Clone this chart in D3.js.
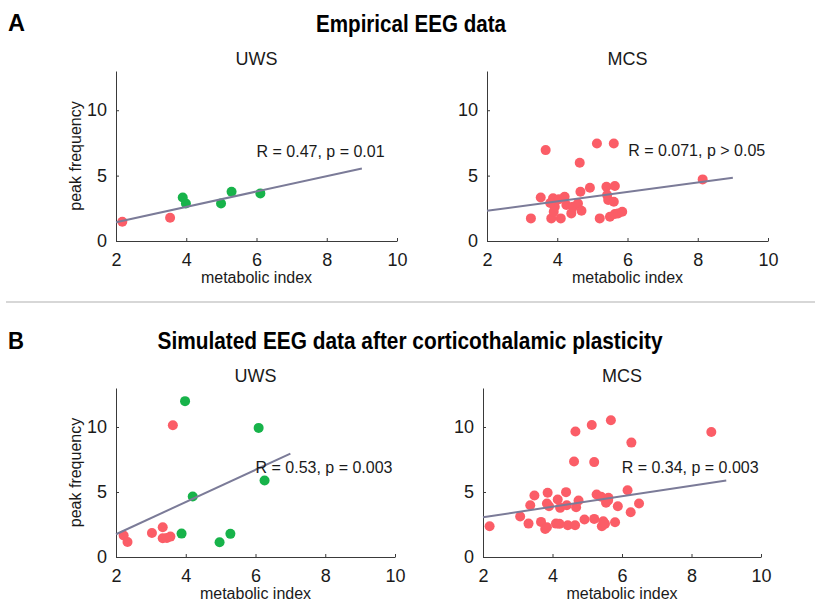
<!DOCTYPE html>
<html>
<head>
<meta charset="utf-8">
<script src="https://cdn.jsdelivr.net/npm/d3@7"></script>
<style>
  body { margin: 0; background: #fff; }
  svg { display: block; font-family: "Liberation Sans", Arial, sans-serif; }
  .axis path, .axis line { stroke: #3a3a3a; }
  .axis text { font-size: 18px; fill: #1a1a1a; font-family: "Liberation Sans", Arial, sans-serif; }
</style>
</head>
<body>
<div id="chart"></div>
<script>
// ---- data (metabolic index, peak frequency) ----
const xTicks = [2, 4, 6, 8, 10];
const yTicks = [0, 5, 10];

// A: empirical, UWS
const empUwsRed = [[2.18, 1.47], [3.54, 1.78]];
const empUwsGreen = [[3.9, 3.33], [3.99, 2.87], [4.99, 2.87], [5.29, 3.77], [6.11, 3.64]];
const empUwsFit = [[2, 1.43], [9, 5.55]];

// A: empirical, MCS
const empMcsRed = [
  [3.25, 1.73], [3.53, 3.33], [3.67, 6.95], [3.83, 1.73], [3.88, 3.26], [3.93, 2.62],
  [3.9, 2.24], [4.1, 1.73], [4.21, 3.38], [4.26, 2.75], [4.4, 2.11], [4.45, 2.62],
  [4.59, 2.87], [4.64, 5.98], [4.66, 3.77], [4.69, 2.31], [4.93, 4.07], [5.13, 7.46],
  [5.21, 1.73], [5.4, 4.15], [5.42, 3.51], [5.45, 3.13], [5.5, 1.86], [5.61, 7.46],
  [5.64, 4.2], [5.61, 3.0], [5.64, 2.06], [5.73, 2.11], [5.85, 2.24], [8.14, 4.71],
  [4.05, 3.2], [3.8, 2.9]
];
const empMcsGreen = [];
const empMcsFit = [[2, 2.31], [9, 4.83]];

// B: simulated, UWS
const simUwsRed = [
  [2.22, 1.65], [2.33, 1.16], [3.03, 1.85], [3.34, 2.29], [3.34, 1.44],
  [3.46, 1.47], [3.56, 1.57], [3.63, 10.14]
];
const simUwsGreen = [
  [3.98, 11.99], [3.88, 1.8], [4.2, 4.66], [4.97, 1.13], [5.28, 1.78], [6.09, 9.93], [6.26, 5.89]
];
const simUwsFit = [[2, 1.75], [7, 7.95]];

// B: simulated, MCS
const simMcsRed = [
  [2.19, 2.36], [3.07, 3.11], [3.31, 2.57], [3.36, 3.98], [3.48, 4.73], [3.67, 2.7],
  [3.79, 2.16], [3.84, 4.12], [3.86, 4.94], [3.9, 3.91], [3.84, 2.29], [4.1, 2.57],
  [4.15, 4.42], [4.2, 2.55], [4.22, 3.78], [4.39, 4.99], [4.41, 3.98], [4.44, 2.44],
  [4.62, 7.34], [4.66, 9.65], [4.65, 2.44], [4.68, 3.83], [4.75, 4.35], [4.92, 2.88],
  [5.13, 10.16], [5.2, 2.93], [5.2, 7.3], [5.27, 4.81], [5.4, 4.63], [5.42, 2.36],
  [5.46, 2.75], [5.51, 2.55], [5.54, 4.17], [5.61, 4.56], [5.6, 4.35], [5.68, 10.52],
  [5.8, 2.67], [5.88, 3.91], [6.16, 5.14], [6.25, 3.44], [6.27, 8.8], [6.49, 4.12],
  [8.57, 9.62]
];
const simMcsGreen = [];
const simMcsFit = [[2, 3.06], [9, 5.89]];

const panels = [
  { title: "UWS", left: 116, top: 71, w: 281, h: 170, red: empUwsRed, green: empUwsGreen, fit: empUwsFit,
    stat: "R = 0.47, p = 0.01", statAt: [6.0, 6.4], ylabel: true },
  { title: "MCS", left: 487, top: 71, w: 281, h: 170, red: empMcsRed, green: empMcsGreen, fit: empMcsFit,
    stat: "R = 0.071, p > 0.05", statAt: [6.02, 6.5], ylabel: false },
  { title: "UWS", left: 116, top: 388, w: 279, h: 169, red: simUwsRed, green: simUwsGreen, fit: simUwsFit,
    stat: "R = 0.53, p = 0.003", statAt: [6.0, 6.45], ylabel: true },
  { title: "MCS", left: 483, top: 388, w: 278, h: 169, red: simMcsRed, green: simMcsGreen, fit: simMcsFit,
    stat: "R = 0.34, p = 0.003", statAt: [5.99, 6.5], ylabel: false }
];

const width = 815, height = 601;
const svg = d3.select("#chart").append("svg")
  .attr("width", width)
  .attr("height", height);

// section headings (condensed bold, like the original figure)
svg.append("text").attr("x", 8).attr("y", 31)
  .attr("textLength", 17).attr("lengthAdjust", "spacingAndGlyphs")
  .style("font-size", "23px").style("font-weight", "bold").text("A");
svg.append("text").attr("x", 411).attr("y", 32)
  .attr("text-anchor", "middle")
  .attr("textLength", 190).attr("lengthAdjust", "spacingAndGlyphs")
  .style("font-size", "23px").style("font-weight", "bold").text("Empirical EEG data");

svg.append("line").attr("x1", 6).attr("x2", 815).attr("y1", 302).attr("y2", 302)
  .attr("stroke", "#b0b0b0").attr("stroke-width", 1.2);

svg.append("text").attr("x", 8).attr("y", 349)
  .attr("textLength", 16).attr("lengthAdjust", "spacingAndGlyphs")
  .style("font-size", "23px").style("font-weight", "bold").text("B");
svg.append("text").attr("x", 410).attr("y", 349)
  .attr("text-anchor", "middle")
  .attr("textLength", 505).attr("lengthAdjust", "spacingAndGlyphs")
  .style("font-size", "23px").style("font-weight", "bold")
  .text("Simulated EEG data after corticothalamic plasticity");

panels.forEach(p => {
  const g = svg.append("g").attr("transform", `translate(${p.left},${p.top})`);

  const x = d3.scaleLinear().domain([2, 10]).range([0, p.w]);
  const y = d3.scaleLinear().domain([0, 13]).range([p.h, 0]);

  // axes (ticks point inward)
  g.append("g").attr("class", "axis")
    .attr("transform", `translate(0,${p.h})`)
    .call(d3.axisBottom(x).tickValues(xTicks).tickSize(-3).tickSizeOuter(0).tickPadding(12));
  g.append("g").attr("class", "axis")
    .call(d3.axisLeft(y).tickValues(yTicks).tickSize(-3).tickSizeOuter(0).tickPadding(9));
  g.selectAll(".axis .domain").attr("stroke-width", 1);

  // title
  g.append("text")
    .attr("x", p.w / 2).attr("y", -6)
    .attr("text-anchor", "middle")
    .style("font-size", "18px").style("fill", "#1a1a1a")
    .text(p.title);

  // x label
  g.append("text")
    .attr("x", p.w / 2).attr("y", p.h + 42)
    .attr("text-anchor", "middle")
    .style("font-size", "16px").style("fill", "#1a1a1a")
    .text("metabolic index");

  if (p.ylabel) {
    g.append("text")
      .attr("transform", "rotate(-90)")
      .attr("x", -p.h / 2).attr("y", -35)
      .attr("text-anchor", "middle")
      .style("font-size", "16px").style("fill", "#1a1a1a")
      .text("peak frequency");
  }

  // points
  g.selectAll("circle.red").data(p.red).enter().append("circle")
    .attr("class", "red")
    .attr("cx", d => x(d[0])).attr("cy", d => y(d[1]))
    .attr("r", 5).attr("fill", "#fb5d67");
  g.selectAll("circle.green").data(p.green).enter().append("circle")
    .attr("class", "green")
    .attr("cx", d => x(d[0])).attr("cy", d => y(d[1]))
    .attr("r", 5).attr("fill", "#17b34a");

  // regression line
  g.append("path")
    .datum(p.fit)
    .attr("fill", "none")
    .attr("stroke", "#7b7b98")
    .attr("stroke-width", 2)
    .attr("d", d3.line().x(d => x(d[0])).y(d => y(d[1])));

  // stats
  g.append("text")
    .attr("x", x(p.statAt[0])).attr("y", y(p.statAt[1]))
    .style("font-size", "16px").style("fill", "#1a1a1a")
    .text(p.stat);
});
</script>
</body>
</html>
